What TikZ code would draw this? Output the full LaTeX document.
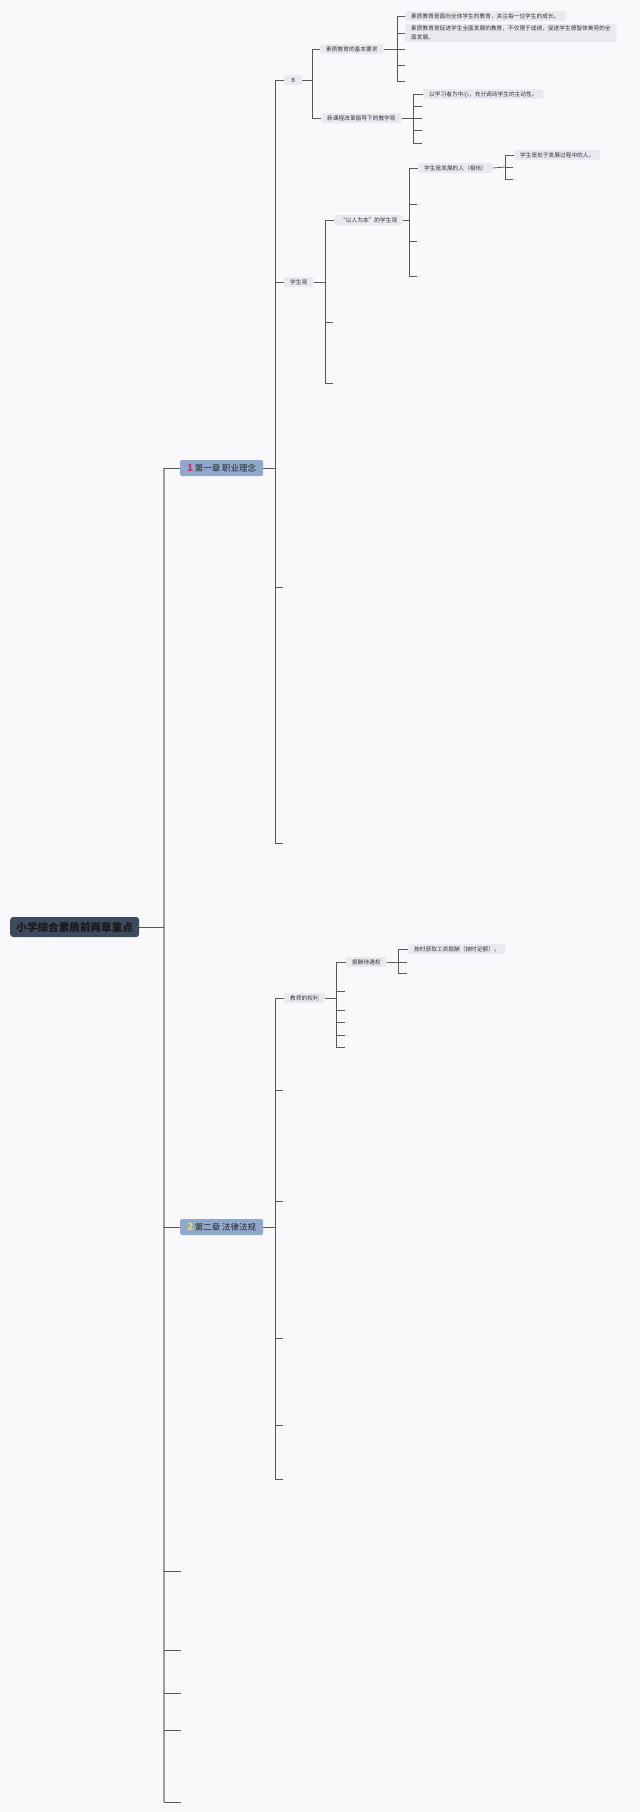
\documentclass[tikz,border=0pt]{standalone}
\usepackage{fontspec}
\setmainfont{Noto Sans CJK SC}
\usepackage{xcolor}
\usetikzlibrary{positioning}

\definecolor{bgcol}{HTML}{F9F9FB}
\definecolor{linecol}{HTML}{595959}
\definecolor{trunkcol}{HTML}{9E9E9E}
\definecolor{topiccol}{HTML}{E8EAEF}
\definecolor{chapcol}{HTML}{8FA9CC}
\definecolor{rootcol}{HTML}{3E4A5E}
\definecolor{onecol}{HTML}{E0245E}
\definecolor{twocol}{HTML}{F6D64A}

\begin{document}
\begin{tikzpicture}[x=1pt, y=-1pt,
    rootbox/.style={fill=rootcol, rounded corners=3pt, anchor=west, minimum width=129pt, minimum height=20pt,
      inner sep=0pt, font=\fontsize{10.6}{12}\selectfont\bfseries, text=black!90},
    chapter/.style={fill=chapcol, rounded corners=1.5pt, anchor=west, minimum width=83pt, minimum height=16pt,
      inner sep=0pt, font=\fontsize{8.5}{10}\selectfont, text=black!85},
    topic/.style={fill=topiccol, rounded corners=2pt, anchor=west, inner xsep=6pt, inner ysep=0pt,
      minimum height=10pt, font=\fontsize{5.7}{8.5}\selectfont, text=black!80},
    link/.style={draw=linecol, line width=0.8pt},
    trunk/.style={draw=trunkcol, line width=1.4pt}]

        % page and background
        \useasboundingbox (0,0) rectangle (640,1812);
        \fill[bgcol] (0,0) rectangle (640,1812);

        % Root
        \node[rootbox] (root) at (10,927) {小学综合素质前两章重点};
        \coordinate (t0) at (164,927);

        % Chapters
        \node[chapter] (chone) at (180,468) {\textcolor{onecol}{\bfseries\fontsize{10}{10}\selectfont 1}\,第一章 职业理念};
        \node[chapter] (chtwo) at (180,1227) {\textcolor{twocol}{\bfseries\fontsize{10}{10}\selectfont 2}\,第二章 法律法规};

        % empty topics on the trunk
        \coordinate (e01) at (181,1571);
        \coordinate (e02) at (181,1650);
        \coordinate (e03) at (181,1693);
        \coordinate (e04) at (181,1730);
        \coordinate (e05) at (181,1802);

        \draw[trunk] (t0 |- chone.west) -- (t0 |- e05);
        \draw[link] (root.east) -- (t0);
        \foreach \c in {chone.west, chtwo.west, e01, e02, e03, e04, e05}
          \draw[link] (t0 |- \c) -- (\c);

        % Chapter one
        \node[topic, minimum width=18pt] (b) at (284,80) {B};
        \node[topic] (xsg) at (284,282) {学生观};
        \coordinate (e11) at (283,587);
        \coordinate (e12) at (283,843);
        \coordinate (f1) at (275,468);
        \draw[link] (chone.east) -- (f1);
        \foreach \c in {b.west, xsg.west, e11, e12}
          \draw[link] (f1) |- (\c);

        % B
        \node[topic] (jyyq) at (320,49) {素质教育的基本要求};
        \node[topic] (kgjx) at (321,118) {新课程改革倡导下的教学观};
        \coordinate (fb) at (312,80);
        \draw[link] (b.east) -- (fb);
        \foreach \c in {jyyq.west, kgjx.west}
          \draw[link] (fb) |- (\c);

        \node[topic] (a1) at (405,16) {素质教育是面向全体学生的教育，关注每一位学生的成长。};
        \node[topic, align=left, inner ysep=2pt] (a2) at (405,33)
          {素质教育是促进学生全面发展的教育，不仅限于成绩，促进学生德智体美劳的全\\面发展。};
        \coordinate (a3) at (405,49);
        \coordinate (a4) at (405,65);
        \coordinate (a5) at (405,81);
        \coordinate (fjy) at (397,49);
        \draw[link] (jyyq.east) -- (fjy);
        \foreach \c in {a1.west, a2.west, a3, a4, a5}
          \draw[link] (fjy) |- (\c);

        \node[topic] (b1) at (423,94) {以学习者为中心，充分调动学生的主动性。};
        \coordinate (b2) at (422,106);
        \coordinate (b3) at (422,118);
        \coordinate (b4) at (422,130);
        \coordinate (b5) at (422,143);
        \coordinate (fkg) at (413,118);
        \draw[link] (kgjx.east) -- (fkg);
        \foreach \c in {b1.west, b2, b3, b4, b5}
          \draw[link] (fkg) |- (\c);

        % 学生观
        \node[topic] (rb) at (334,220) {“以人为本”的学生观};
        \coordinate (s2) at (333,322);
        \coordinate (s3) at (333,383);
        \coordinate (fxs) at (325,282);
        \draw[link] (xsg.east) -- (fxs);
        \foreach \c in {rb.west, s2, s3}
          \draw[link] (fxs) |- (\c);

        \node[topic] (fz) at (418,168) {学生是发展的人（相信）};
        \coordinate (r2) at (417,204);
        \coordinate (r3) at (417,241);
        \coordinate (r4) at (417,276);
        \coordinate (frb) at (409,220);
        \draw[link] (rb.east) -- (frb);
        \foreach \c in {fz.west, r2, r3, r4}
          \draw[link] (frb) |- (\c);

        \node[topic] (c1) at (514,155) {学生是处于发展过程中的人。};
        \coordinate (c2) at (513,167);
        \coordinate (c3) at (513,179);
        \coordinate (ffz) at (505,167);
        \draw[link] (fz.east) -- (ffz);
        \foreach \c in {c1.west, c2, c3}
          \draw[link] (ffz) |- (\c);

        % Chapter two
        \node[topic] (ql) at (284,998) {教师的权利};
        \coordinate (q2) at (283,1090);
        \coordinate (q3) at (283,1201);
        \coordinate (q4) at (283,1338);
        \coordinate (q5) at (283,1425);
        \coordinate (q6) at (283,1479);
        \coordinate (f2) at (275,1227);
        \draw[link] (chtwo.east) -- (f2);
        \foreach \c in {ql.west, q2, q3, q4, q5, q6}
          \draw[link] (f2) |- (\c);

        \node[topic] (bc) at (346,962) {报酬待遇权};
        \coordinate (p2) at (345,991);
        \coordinate (p3) at (345,1010);
        \coordinate (p4) at (345,1022);
        \coordinate (p5) at (345,1035);
        \coordinate (p6) at (345,1047);
        \coordinate (fql) at (336,998);
        \draw[link] (ql.east) -- (fql);
        \foreach \c in {bc.west, p2, p3, p4, p5, p6}
          \draw[link] (fql) |- (\c);

        \node[topic] (d1) at (408,949) {按时获取工资报酬（按时足额）。};
        \coordinate (d2) at (407,962);
        \coordinate (d3) at (407,973);
        \coordinate (fbc) at (398,962);
        \draw[link] (bc.east) -- (fbc);
        \foreach \c in {d1.west, d2, d3}
          \draw[link] (fbc) |- (\c);
      \end{tikzpicture}
\end{document}
